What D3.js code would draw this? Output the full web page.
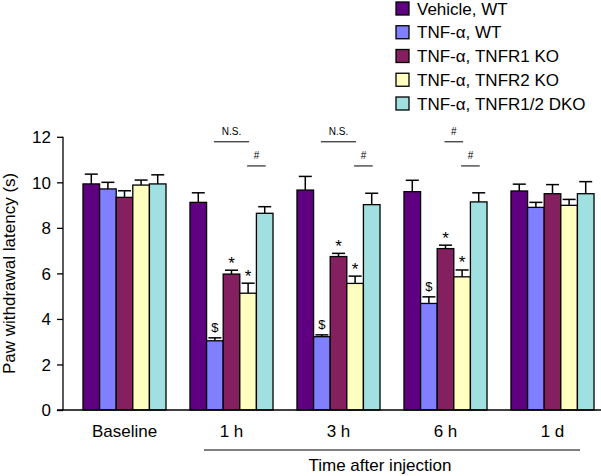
<!DOCTYPE html>
<html>
<head>
<meta charset="utf-8">
<script src="https://cdn.jsdelivr.net/npm/d3@7"></script>
<style>
  html, body { margin: 0; padding: 0; background: #fff; }
  svg { display: block; }
  text { font-family: "Liberation Sans", Arial, sans-serif; fill: #000; }
</style>
</head>
<body>
<svg id="chart" width="601" height="476"></svg>
<script>
// ---------------- data ----------------
const groups = ["Baseline", "1 h", "3 h", "6 h", "1 d"];
const seriesNames = ["Vehicle, WT", "TNF-\u03B1, WT", "TNF-\u03B1, TNFR1 KO", "TNF-\u03B1, TNFR2 KO", "TNF-\u03B1, TNFR1/2 DKO"];
const seriesColors = ["#5F0080", "#8080FF", "#84205F", "#FFFFC0", "#A0E0E0"];

const vehicleWT     = [9.93, 9.12, 9.66, 9.59, 9.62];
const vehicleWTErr  = [0.43, 0.42, 0.60, 0.50, 0.30];
const tnfWT         = [9.71, 3.04, 3.22, 4.68, 8.90];
const tnfWTErr      = [0.29, 0.13, 0.08, 0.29, 0.22];
const tnfr1KO       = [9.34, 5.97, 6.74, 7.09, 9.50];
const tnfr1KOErr    = [0.29, 0.17, 0.14, 0.15, 0.40];
const tnfr2KO       = [9.88, 5.13, 5.56, 5.85, 8.99];
const tnfr2KOErr    = [0.22, 0.44, 0.32, 0.30, 0.26];
const dko           = [9.93, 8.64, 9.02, 9.14, 9.50];
const dkoErr        = [0.40, 0.29, 0.50, 0.40, 0.53];

const tnfWTSig   = ["", "$", "$", "$", ""];
const tnfr1KOSig = ["", "*", "*", "*", ""];
const tnfr2KOSig = ["", "*", "*", "*", ""];

const yTicks = [0, 2, 4, 6, 8, 10, 12];

// comparison brackets: group, from-series index, to-series index, label, level (0 = upper)
const bracketGroups = ["1 h", "1 h", "3 h", "3 h", "6 h", "6 h"];
const bracketFrom   = [1, 3, 1, 3, 2, 3];
const bracketTo     = [3, 4, 3, 4, 3, 4];
const bracketLabels = ["N.S.", "#", "N.S.", "#", "#", "#"];
const bracketLevels = [0, 1, 0, 1, 0, 1];

const yTitle = "Paw withdrawal latency (s)";
const xTitle = "Time after injection";

// ---------------- build ----------------
const allValues = [vehicleWT, tnfWT, tnfr1KO, tnfr2KO, dko];
const allErrs   = [vehicleWTErr, tnfWTErr, tnfr1KOErr, tnfr2KOErr, dkoErr];
const allSigs   = [null, tnfWTSig, tnfr1KOSig, tnfr2KOSig, null];

const bars = [];
groups.forEach((g, gi) => {
  seriesNames.forEach((s, si) => {
    bars.push({ group: g, series: si, value: allValues[si][gi], err: allErrs[si][gi],
                sig: allSigs[si] ? allSigs[si][gi] : "" });
  });
});

const svg = d3.select("#chart");
const font = "Liberation Sans, Arial, sans-serif";

const x = d3.scaleBand().domain(groups).range([71, 606]).paddingInner(0.224).paddingOuter(0.112);
const xs = d3.scaleBand().domain(d3.range(seriesNames.length)).range([0, x.bandwidth()]);
const y = d3.scaleLinear().domain([0, 12]).range([410, 136.8]);

const bx = (d) => x(d.group) + xs(d.series);
const bc = (g, si) => x(g) + xs(si) + xs.bandwidth() / 2;

// bars
svg.append("g").selectAll("rect").data(bars).join("rect")
  .attr("x", d => bx(d))
  .attr("y", d => y(d.value))
  .attr("width", xs.bandwidth())
  .attr("height", d => y(0) - y(d.value))
  .attr("fill", d => seriesColors[d.series])
  .attr("stroke", "#000")
  .attr("stroke-width", 1.3);

// error bars (upper only)
const eg = svg.append("g").attr("stroke", "#000").attr("stroke-width", 1.5);
eg.selectAll("line.v").data(bars).join("line").attr("class", "v")
  .attr("x1", d => bx(d) + xs.bandwidth() / 2)
  .attr("x2", d => bx(d) + xs.bandwidth() / 2)
  .attr("y1", d => y(d.value))
  .attr("y2", d => y(d.value + d.err));
eg.selectAll("line.c").data(bars).join("line").attr("class", "c")
  .attr("x1", d => bx(d) + xs.bandwidth() / 2 - 6.5)
  .attr("x2", d => bx(d) + xs.bandwidth() / 2 + 6.5)
  .attr("y1", d => y(d.value + d.err))
  .attr("y2", d => y(d.value + d.err));

// significance symbols
svg.append("g").selectAll("text").data(bars.filter(d => d.sig)).join("text")
  .attr("x", d => bx(d) + xs.bandwidth() / 2)
  .attr("y", d => y(d.value + d.err) - (d.sig === "$" ? 6.3 : 1.5))
  .attr("text-anchor", "middle")
  .attr("font-size", d => d.sig === "$" ? 13 : 17)
  .text(d => d.sig);

// brackets
const levelY = [y(11.78), y(10.72)];
const bg = svg.append("g");
bracketGroups.forEach((g, i) => {
  const x1 = bc(g, bracketFrom[i]) - 1;
  const x2 = bc(g, bracketTo[i]) + 1;
  const ly = levelY[bracketLevels[i]];
  bg.append("line").attr("x1", x1).attr("x2", x2).attr("y1", ly).attr("y2", ly)
    .attr("stroke", "#000").attr("stroke-width", 1);
  bg.append("text").attr("x", (x1 + x2) / 2).attr("y", ly - 7)
    .attr("text-anchor", "middle").attr("font-size", 10).text(bracketLabels[i]);
});

// y axis
const yAxis = d3.axisLeft(y).tickValues(yTicks).tickSize(6).tickPadding(6).tickFormat(d3.format("d"));
const ya = svg.append("g").attr("transform", "translate(63,0)").call(yAxis);
ya.select(".domain").attr("d", `M0,${y(12)}V${y(0)}`).attr("stroke", "#000").attr("stroke-width", 1.3);
ya.selectAll(".tick line").attr("stroke", "#000").attr("stroke-width", 1.3);
ya.selectAll(".tick text").attr("font-size", 17).attr("font-family", font).attr("fill", "#000").attr("dy", "0.35em");

// x axis
const xAxis = d3.axisBottom(x).tickSize(0).tickPadding(0);
const xa = svg.append("g").attr("transform", `translate(0,${y(0)})`).call(xAxis);
xa.select(".domain").attr("d", `M57,0H601`).attr("stroke", "#000").attr("stroke-width", 1.3);
xa.selectAll(".tick text").attr("font-size", 17).attr("font-family", font).attr("fill", "#000")
  .attr("y", 27).attr("dy", 0);

// time-after-injection bracket
const tx1 = x("1 h") + 14, tx2 = x("1 d") + x.bandwidth() - 14;
svg.append("line").attr("x1", tx1).attr("x2", tx2).attr("y1", 450).attr("y2", 450)
  .attr("stroke", "#000").attr("stroke-width", 1.2);
svg.append("text").attr("x", (tx1 + tx2) / 2 - 12).attr("y", 471)
  .attr("text-anchor", "middle").attr("font-size", 17).text(xTitle);

// y title
svg.append("text").attr("transform", `translate(15,${(y(0) + y(12)) / 2}) rotate(-90)`)
  .attr("text-anchor", "middle").attr("font-size", 17).text(yTitle);

// legend
const lg = svg.append("g");
seriesNames.forEach((s, i) => {
  const cy = 8.5 + i * 23.75;
  lg.append("rect").attr("x", 396).attr("y", cy - 6.5).attr("width", 13).attr("height", 13)
    .attr("fill", seriesColors[i]).attr("stroke", "#000").attr("stroke-width", 1.3);
  lg.append("text").attr("x", 417).attr("y", cy + 6).attr("font-size", 17).text(s);
});
</script>
</body>
</html>
